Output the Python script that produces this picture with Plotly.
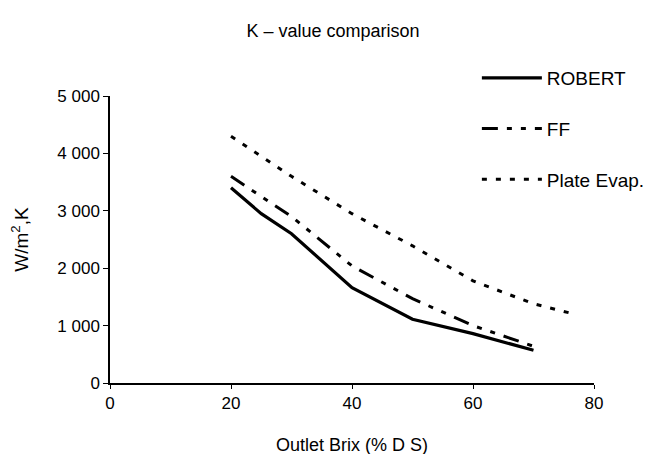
import plotly.graph_objects as go

brix_robert = [20, 25, 30, 40, 50, 60, 70]
k_robert = [3400, 2950, 2600, 1660, 1110, 860, 570]

brix_ff = [20, 25, 30, 40, 50, 60, 70]
k_ff = [3600, 3250, 2900, 2040, 1470, 1000, 640]

brix_plate = [20, 30, 40, 50, 60, 70, 76]
k_plate = [4300, 3600, 2950, 2390, 1780, 1380, 1220]

title_text = "K – value comparison"
x_title = "Outlet Brix (% D S)"
y_title = "W/m<sup>2</sup>,K"

fig = go.Figure()
fig.add_trace(go.Scatter(x=brix_robert, y=k_robert, mode="lines", name="ROBERT",
                         legendgroup="a",
                         line=dict(color="black", width=3.2)))
fig.add_trace(go.Scatter(x=brix_ff, y=k_ff, mode="lines", name="FF",
                         legendgroup="b",
                         line=dict(color="black", width=3, dash="16px,9px,5px,9px,5px,9px")))
fig.add_trace(go.Scatter(x=brix_plate, y=k_plate, mode="lines", name="Plate Evap.",
                         legendgroup="c",
                         line=dict(color="black", width=3, dash="5px,9px")))

font_family = "Liberation Sans, Arial, sans-serif"
fig.update_layout(
    width=654, height=454,
    margin=dict(l=102, r=53, t=88, b=79),
    paper_bgcolor="white", plot_bgcolor="white",
    separators=". ",
    font=dict(family=font_family, size=17, color="black"),
    title=dict(text=title_text, x=325 / 654, xanchor="center",
               y=1 - 23 / 454, yanchor="middle",
               font=dict(family=font_family, size=18, color="black")),
    showlegend=True,
    legend=dict(x=0.758, y=1.129, xanchor="left", yanchor="top",
                bgcolor="rgba(0,0,0,0)", tracegroupgap=23,
                font=dict(family=font_family, size=19, color="black"),
                itemwidth=60),
    xaxis=dict(range=[0, 80], tickvals=[0, 20, 40, 60, 80], showgrid=False,
               zeroline=False, showline=True, linecolor="black", linewidth=1.5,
               ticks="outside", ticklen=4, tickcolor="black", automargin=False,
               title=dict(text=x_title, standoff=26,
                          font=dict(family=font_family, size=18, color="black")),
               tickfont=dict(family=font_family, size=17, color="black")),
    yaxis=dict(range=[0, 5000], tickvals=[0, 1000, 2000, 3000, 4000, 5000],
               tickformat=",d", showgrid=False, zeroline=False, showline=True,
               linecolor="black", linewidth=1.5, ticks="outside", ticklen=5,
               tickcolor="black", automargin=False,
               title=dict(text=y_title, standoff=25,
                          font=dict(family=font_family, size=19, color="black")),
               tickfont=dict(family=font_family, size=17, color="black")),
)

fig.write_html("out.html")
